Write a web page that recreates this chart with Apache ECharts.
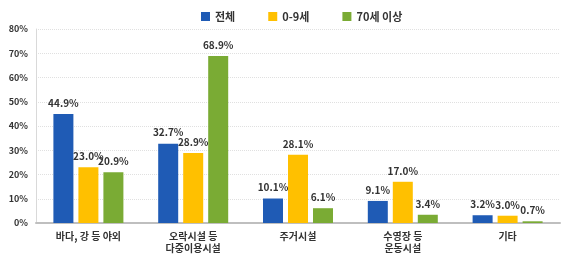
<!DOCTYPE html>
<html>
<head>
<meta charset="utf-8">
<script src="https://cdn.jsdelivr.net/npm/echarts@6/dist/echarts.min.js"></script>
<style>
  html, body { margin: 0; padding: 0; background: #fff; }
  #chart { width: 569px; height: 259px; }
</style>
</head>
<body>
<div id="chart"></div>
<script>
let categories = ['바다, 강 등 야외', '오락시설 등\n다중이용시설', '주거시설', '수영장 등\n운동시설', '기타'];
let seriesNames = ['전체', '0-9세', '70세 이상'];
let total = [44.9, 32.7, 10.1, 9.1, 3.2];
let age0to9 = [23.0, 28.9, 28.1, 17.0, 3.0];
let age70plus = [20.9, 68.9, 6.1, 3.4, 0.7];
let yTicks = [0, 10, 20, 30, 40, 50, 60, 70, 80];

let colors = ['#1f5bb5', '#ffc000', '#7aab34'];
let font = '"Noto Sans CJK KR", "Noto Sans", sans-serif';

function makeSeries(name, data, color) {
  return {
    name: name,
    type: 'bar',
    data: data,
    barWidth: 20,
    barGap: '25%',
    itemStyle: {color: color},
    label: {
      show: true,
      position: 'top',
      distance: 6,
      formatter: function (p) {
        return p.value.toFixed(1) + '%';
      },
      color: '#333',
      fontWeight: 'bold',
      fontSize: 10,
      fontFamily: font
    }
  };
}

let myChart = echarts.init(document.getElementById('chart'));
let option = {
  animation: false,
  color: colors,
  legend: {
    top: 6,
    left: 196,
    itemWidth: 9,
    itemHeight: 9,
    itemGap: 33,
    icon: 'rect',
    textStyle: {color: '#333', fontWeight: 'bold', fontSize: 11, fontFamily: font},
    data: seriesNames
  },
  grid: {left: 36, right: 9, top: 29, bottom: 36},
  xAxis: {
    type: 'category',
    data: categories,
    axisLine: {lineStyle: {color: '#bfbfbf', width: 2}},
    axisTick: {show: false},
    axisLabel: {
      color: '#333',
      fontWeight: 'bold',
      fontSize: 10,
      fontFamily: font,
      lineHeight: 12,
      margin: 7
    }
  },
  yAxis: {
    type: 'value',
    min: yTicks[0],
    max: yTicks[yTicks.length - 1],
    interval: 10,
    axisLine: {show: true, lineStyle: {color: '#d9d9d9', width: 1}},
    axisTick: {show: false},
    splitLine: {lineStyle: {color: '#e0e0e0', type: 'dotted'}},
    axisLabel: {
      formatter: '{value}%',
      color: '#333',
      fontWeight: 'bold',
      fontSize: 9,
      fontFamily: font,
      margin: 8
    }
  },
  series: [
    makeSeries(seriesNames[0], total, colors[0]),
    makeSeries(seriesNames[1], age0to9, colors[1]),
    makeSeries(seriesNames[2], age70plus, colors[2])
  ]
};
myChart.setOption(option);
</script>
</body>
</html>
